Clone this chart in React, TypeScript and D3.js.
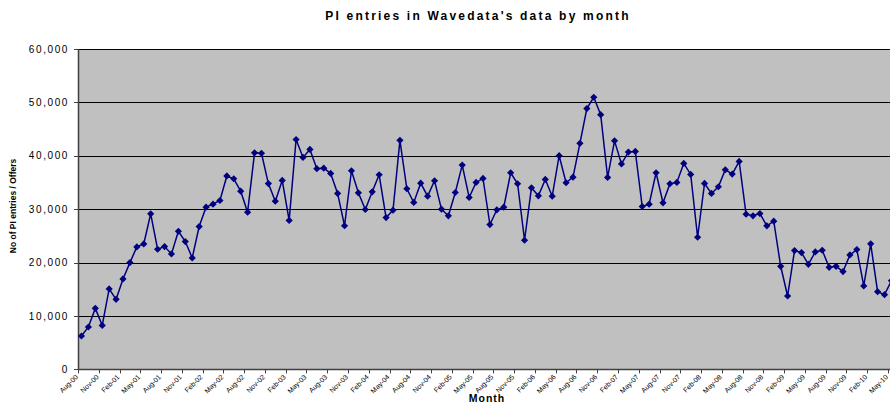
import React, { useRef, useEffect } from 'react'
import * as d3 from 'd3'

// monthly PI entries, Aug-00 .. May-10
const months: Date[] = d3.timeMonths(new Date(2000, 7, 1), new Date(2010, 5, 1))
const values: number[] = [
  6250, 7940, 11430, 8240, 15070, 13120, 16940, 20000, 22940, 23500,
  29140, 22500, 23000, 21630, 25870, 23940, 20880, 26750, 30380, 30940,
  31630, 36230, 35700, 33380, 29440, 40550, 40480, 34800, 31500, 35380,
  27900, 43050, 39700, 41200, 37580, 37690, 36700, 32950, 26900, 37200,
  33070, 29940, 33260, 36450, 28440, 29810, 42890, 33830, 31260, 34880,
  32440, 35330, 30000, 28760, 33130, 38260, 32200, 35010, 35760, 27130,
  29890, 30380, 36830, 34770, 24190, 34010, 32510, 35570, 32440, 40020,
  34950, 36000, 42330, 48840, 50960, 47710, 35950, 42800, 38480, 40690,
  40820, 30510, 30940, 36830, 31200, 34770, 35010, 38570, 36510, 24750,
  34820, 32950, 34200, 37390, 36570, 38950, 29060, 28760, 29190, 26880,
  27750, 19310, 13750, 22250, 21880, 19680, 22000, 22310, 19120, 19310,
  18310, 21440, 22440, 15630, 23510, 14560, 14000, 16620,
]
const yTicks: number[] = [0, 10000, 20000, 30000, 40000, 50000, 60000]

const W = 890
const H = 405
const margin = { top: 49, left: 78, bottom: 36 }
const step = 6.923

export default function App() {
  const svgRef = useRef<SVGSVGElement | null>(null)

  useEffect(() => {
    if (!svgRef.current) return
    const svg = d3.select(svgRef.current)
    svg.selectAll('*').remove()

    const fmt = d3.timeFormat('%b-%y')
    const labels = months.map(m => fmt(m))
    const bottom = H - margin.bottom + 0.4

    const x = d3.scaleBand<string>()
      .domain(labels)
      .range([margin.left, margin.left + labels.length * step])
      .padding(0)

    const y = d3.scaleLinear()
      .domain([0, 60000])
      .range([bottom, margin.top])

    // plot area
    svg.append('rect')
      .attr('x', margin.left)
      .attr('y', margin.top)
      .attr('width', W - margin.left)
      .attr('height', bottom - margin.top)
      .attr('fill', '#c0c0c0')

    // gridlines
    svg.append('g')
      .selectAll('line')
      .data(yTicks.slice(1))
      .enter().append('line')
      .attr('x1', margin.left)
      .attr('x2', W)
      .attr('y1', d => Math.round(y(d)) + 0.5)
      .attr('y2', d => Math.round(y(d)) + 0.5)
      .attr('stroke', '#000')
      .attr('stroke-width', 1)

    // y axis
    const yAxis = svg.append('g')
    yAxis.append('line')
      .attr('x1', margin.left + 0.5).attr('x2', margin.left + 0.5)
      .attr('y1', margin.top).attr('y2', bottom)
      .attr('stroke', '#404040').attr('stroke-width', 1.5)
    yAxis.selectAll('.ytick')
      .data(yTicks)
      .enter().append('line')
      .attr('x1', margin.left - 4).attr('x2', margin.left)
      .attr('y1', d => Math.round(y(d)) + 0.5)
      .attr('y2', d => Math.round(y(d)) + 0.5)
      .attr('stroke', '#404040')
    yAxis.selectAll('.ylabel')
      .data(yTicks)
      .enter().append('text')
      .attr('x', 69)
      .attr('y', d => y(d) + 3.5)
      .attr('text-anchor', 'end')
      .style('font-family', 'Liberation Sans, Arial, sans-serif')
      .style('font-size', '10px')
      .style('letter-spacing', '1.6px')
      .style('fill', '#000')
      .text(d => d3.format(',')(d))

    // x axis
    const xAxis = svg.append('g')
    xAxis.append('line')
      .attr('x1', margin.left).attr('x2', W)
      .attr('y1', bottom).attr('y2', bottom)
      .attr('stroke', '#404040').attr('stroke-width', 1.5)
    const tickLabels = labels.filter((_, i) => i % 3 === 0)
    xAxis.selectAll('.xtick')
      .data(tickLabels)
      .enter().append('line')
      .attr('x1', d => Math.round(x(d)!) + 0.5)
      .attr('x2', d => Math.round(x(d)!) + 0.5)
      .attr('y1', bottom).attr('y2', bottom + 4)
      .attr('stroke', '#404040')
    xAxis.selectAll('.xlabel')
      .data(tickLabels)
      .enter().append('text')
      .attr('transform', d => `translate(${x(d)! + 0.5},${bottom + 8}) rotate(-45)`)
      .attr('text-anchor', 'end')
      .style('font-family', 'Liberation Sans, Arial, sans-serif')
      .style('font-size', '7px')
      .style('fill', '#000')
      .text(d => d)

    // line + markers
    const pts = values.map((v, i) => ({ x: x(labels[i])! + x.bandwidth() / 2, y: y(v) }))
    svg.append('path')
      .datum(pts)
      .attr('fill', 'none')
      .attr('stroke', '#000080')
      .attr('stroke-width', 1.5)
      .attr('d', d3.line<{ x: number; y: number }>().x(d => d.x).y(d => d.y))

    svg.append('g')
      .selectAll('path')
      .data(pts)
      .enter().append('path')
      .attr('transform', d => `translate(${d.x},${d.y})`)
      .attr('d', 'M0,-3.6L3.6,0L0,3.6L-3.6,0Z')
      .attr('fill', '#000080')

    // titles
    svg.append('text')
      .attr('x', 478).attr('y', 20)
      .attr('text-anchor', 'middle')
      .style('font-family', 'Liberation Sans, Arial, sans-serif')
      .style('font-size', '12px')
      .style('font-weight', 'bold')
      .style('letter-spacing', '2.2px')
      .text("PI entries in Wavedata's data by month")

    svg.append('text')
      .attr('x', 487).attr('y', 402)
      .attr('text-anchor', 'middle')
      .style('font-family', 'Liberation Sans, Arial, sans-serif')
      .style('font-size', '10.5px')
      .style('font-weight', 'bold')
      .style('letter-spacing', '1px')
      .text('Month')

    svg.append('text')
      .attr('transform', 'translate(16,206) rotate(-90)')
      .attr('text-anchor', 'middle')
      .style('font-family', 'Liberation Sans, Arial, sans-serif')
      .style('font-size', '8.5px')
      .style('font-weight', 'bold')
      .style('letter-spacing', '0px')
      .text('No of PI entries / Offers')
  }, [])

  return (
    <div style={{ position: 'absolute', left: 0, top: 0, width: W, height: H, overflow: 'hidden', background: '#fff' }}>
      <svg ref={svgRef} width={W} height={H} style={{ display: 'block' }} />
    </div>
  )
}
